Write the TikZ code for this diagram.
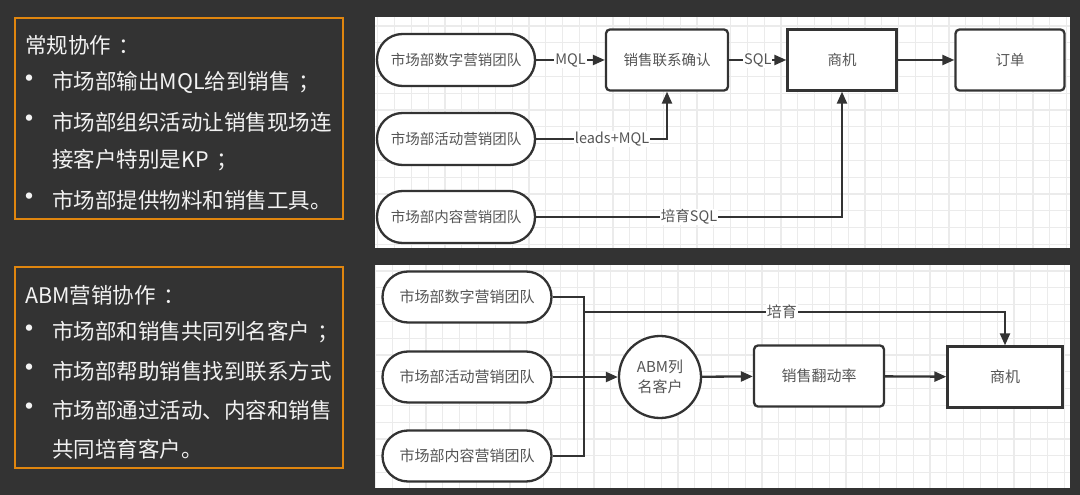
\documentclass[tikz,border=0pt]{standalone}
\usepackage{fontspec}
\setmainfont{Noto Sans CJK SC}
\usetikzlibrary{arrows.meta}
\definecolor{bg}{HTML}{333333}
\definecolor{orangeframe}{HTML}{E0860F}
\definecolor{gridc}{HTML}{EBEBEB}
\definecolor{linec}{HTML}{333333}
\definecolor{nodetxt}{HTML}{555555}
\definecolor{lefttxt}{HTML}{F2F2F2}
\newcommand{\pp}[1]{\hspace{0.35em}#1}
\tikzset{
  frame/.style={draw=orangeframe, line width=1.4pt},
  lt/.style={anchor=west, inner sep=0pt, text=lefttxt, font=\fontsize{21.5}{24}\selectfont},
  bul/.style={inner sep=0pt, text=lefttxt, font=\fontsize{30}{30}\selectfont},
  gridline/.style={draw=gridc, line width=1.2pt},
  txt/.style={text=nodetxt, font=\fontsize{14.5}{18}\selectfont},
  txtb/.style={text=nodetxt, font=\fontsize{15}{20}\selectfont},
  team/.style={draw=linec, line width=2.3pt, fill=white, rounded corners=25.5pt, minimum width=158pt, minimum height=52pt, inner sep=0pt, txt},
  teamb/.style={team, minimum width=169pt, minimum height=51pt, txtb},
  rbox/.style={draw=linec, line width=2.3pt, fill=white, rounded corners=4pt, minimum height=61pt, inner sep=0pt, txt},
  sbox/.style={draw=linec, line width=2.3pt, fill=white, minimum height=61pt, inner sep=0pt, txt},
  conn/.style={draw=linec, line width=2.3pt},
  arr/.style={conn, -{Triangle[length=12pt,width=10pt]}},
  lbl/.style={fill=white, inner sep=1pt, txt},
}
\begin{document}
\begin{tikzpicture}[x=1pt,y=-1pt]
\fill[bg] (0,0) rectangle (1080,495);
\useasboundingbox (0,0) rectangle (1080,495);

% ---------- left text boxes ----------
\draw[frame] (15,18) rectangle (343,219);
\node[lt] (h1) at (25,45) {常规协作\pp{：}};
\node[bul] (p11) at (29,82) {•};
\node[lt] (q11) at (52,82) {市场部输出MQL给到销售\pp{；}};
\node[bul] (p12) at (29,122) {•};
\node[lt] (q12) at (52,122) {市场部组织活动让销售现场连};
\node[lt] (q12b) at (52,160) {接客户特别是KP\pp{；}};
\node[bul] (p13) at (29,200) {•};
\node[lt] (q13) at (52,200) {市场部提供物料和销售工具。};

\draw[frame] (15,267) rectangle (343,468);
\node[lt] (h2) at (25,295) {ABM营销协作\pp{：}};
\node[bul] (p21) at (29,332) {•};
\node[lt] (q21) at (52,332) {市场部和销售共同列名客户\pp{；}};
\node[bul] (p22) at (29,371) {•};
\node[lt] (q22) at (52,371) {市场部帮助销售找到联系方式};
\node[bul] (p23) at (29,410) {•};
\node[lt] (q23) at (52,410) {市场部通过活动、内容和销售};
\node[lt] (q23b) at (52,449) {共同培育客户。};

% ---------- panels with grid ----------
\fill[white] (375,17) rectangle (1070,248);
\begin{scope}
  \clip (375,17) rectangle (1070,248);
  \foreach \x in {377.7,394.5,...,1075} {\draw[gridline] (\x,17) -- (\x,248);}
  \foreach \y in {26,42.8,...,250} {\draw[gridline] (375,\y) -- (1070,\y);}
\end{scope}
\fill[white] (375,265) rectangle (1070,488);
\begin{scope}
  \clip (375,265) rectangle (1070,488);
  \foreach \x in {375.6,392.4,...,1075} {\draw[gridline] (\x,265) -- (\x,488);}
  \foreach \y in {271,287.8,...,490} {\draw[gridline] (375,\y) -- (1070,\y);}
\end{scope}

% ---------- top diagram ----------
\node[team] (d1) at (456,60) {市场部数字营销团队};
\node[team] (d2) at (456,139) {市场部活动营销团队};
\node[team] (d3) at (456,217) {市场部内容营销团队};
\node[rbox, minimum width=122pt] (confirm) at (667,60) {销售联系确认};
\node[sbox, minimum width=109pt] (opp1) at (842,60) {商机};
\node[rbox, minimum width=109pt] (order) at (1010,60) {订单};

\draw[arr] (d1) -- node[lbl] {MQL} (confirm);
\draw[arr] (d2.east) -| node[lbl, pos=0.29] {leads+MQL} (confirm.south);
\draw[arr] (d3.east) -| node[lbl, pos=0.25] {培育SQL} (opp1.south);
\draw[arr] (confirm) -- node[lbl] {SQL} (opp1);
\draw[arr] (opp1) -- (order);

% ---------- bottom diagram ----------
\node[teamb] (b1) at (467,297) {市场部数字营销团队};
\node[teamb] (b2) at (467,377) {市场部活动营销团队};
\node[teamb] (b3) at (467,456) {市场部内容营销团队};
\node[draw=linec, line width=2.3pt, fill=white, circle, minimum size=82pt, inner sep=0pt, align=center, txtb] (abm) at (660,377) {ABM列\\名客户};
\node[rbox, minimum width=130pt, txtb] (turn) at (819,376) {销售翻动率};
\node[sbox, minimum width=115pt, txtb] (opp2) at (1005,377) {商机};

\coordinate (jb) at (584,377);
\coordinate (jp) at (584,312);
\draw[conn] (b1.east) -| (jb) |- (b3.east);
\draw[arr] (b2) -- (abm);
\draw[arr] (jp) -| node[lbl, txtb, pos=0.235] {培育} (opp2.north);
\draw[arr] (abm) -- (turn);
\draw[arr] (turn) -- (opp2);
\end{tikzpicture}
\end{document}
